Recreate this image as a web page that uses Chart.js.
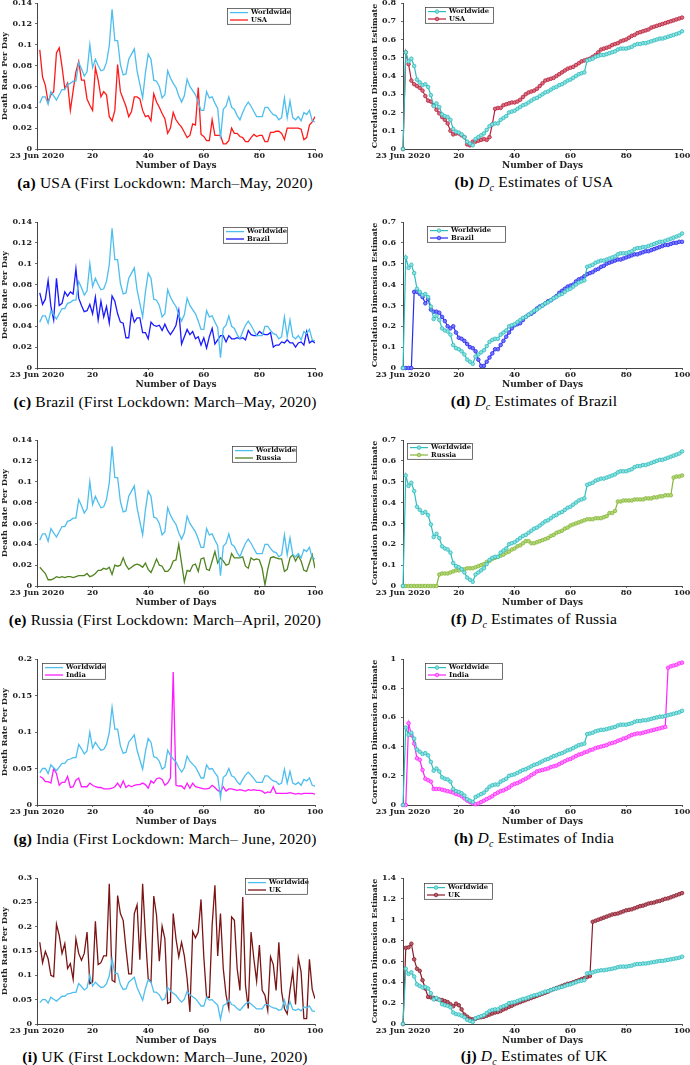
<!DOCTYPE html>
<html>
<head>
<meta charset="utf-8">
<script src="https://cdn.jsdelivr.net/npm/chart.js@4.4.1/dist/chart.umd.min.js"></script>
<style>
  body { margin: 0; background: #fff; width: 690px; height: 1065px; position: relative; overflow: hidden; }
  canvas { position: absolute; }
  .cap { position: absolute; font-family: "Liberation Serif", serif; font-size: 15.5px; color: #000;
         white-space: nowrap; transform: translate(-50%, -50%); letter-spacing: 0.2px; }
  .cap sub { font-size: 10px; }
</style>
</head>
<body>
<script>
// death rate per day, days 1..100
let worldRate = [0.044,0.050,0.050,0.043,0.055,0.051,0.047,0.052,0.057,0.057,
  0.062,0.063,0.065,0.065,0.083,0.077,0.070,0.074,0.100,0.078,
  0.086,0.080,0.075,0.076,0.083,0.099,0.134,0.104,0.104,0.081,
  0.071,0.072,0.086,0.091,0.096,0.075,0.062,0.049,0.073,0.091,
  0.086,0.066,0.065,0.060,0.049,0.052,0.075,0.068,0.063,0.059,
  0.051,0.045,0.051,0.067,0.060,0.056,0.052,0.045,0.037,0.037,
  0.055,0.049,0.050,0.044,0.039,0.010,0.038,0.041,0.050,0.040,
  0.038,0.032,0.028,0.035,0.041,0.045,0.041,0.036,0.031,0.031,
  0.031,0.040,0.040,0.036,0.033,0.032,0.028,0.030,0.049,0.030,
  0.046,0.030,0.028,0.031,0.027,0.035,0.033,0.037,0.027,0.026];
let usaRate = [0.095,0.069,0.061,0.045,0.052,0.055,0.092,0.097,0.079,0.058,
  0.063,0.037,0.056,0.074,0.084,0.066,0.066,0.048,0.042,0.037,
  0.078,0.066,0.050,0.055,0.052,0.031,0.027,0.037,0.081,0.055,
  0.048,0.041,0.031,0.036,0.050,0.050,0.048,0.037,0.031,0.032,
  0.027,0.053,0.045,0.040,0.034,0.029,0.015,0.020,0.035,0.028,
  0.024,0.021,0.016,0.011,0.013,0.024,0.023,0.059,0.014,0.012,
  0.008,0.008,0.028,0.013,0.013,0.013,0.005,0.005,0.008,0.020,
  0.015,0.015,0.012,0.011,0.007,0.007,0.011,0.014,0.012,0.013,
  0.013,0.007,0.007,0.016,0.016,0.017,0.017,0.015,0.009,0.020,
  0.020,0.020,0.020,0.020,0.019,0.009,0.011,0.023,0.026,0.031];
let brazilRate = [0.072,0.061,0.066,0.084,0.059,0.046,0.086,0.060,0.062,0.073,
  0.069,0.073,0.071,0.095,0.067,0.060,0.054,0.055,0.061,0.052,
  0.068,0.046,0.064,0.049,0.059,0.043,0.069,0.064,0.052,0.044,
  0.043,0.029,0.029,0.054,0.044,0.048,0.048,0.034,0.034,0.028,
  0.044,0.041,0.040,0.041,0.036,0.042,0.036,0.032,0.036,0.041,
  0.055,0.023,0.030,0.037,0.032,0.035,0.028,0.030,0.022,0.029,
  0.019,0.030,0.038,0.023,0.027,0.031,0.031,0.025,0.031,0.028,
  0.028,0.029,0.028,0.029,0.027,0.036,0.032,0.031,0.031,0.035,
  0.033,0.032,0.032,0.034,0.020,0.022,0.022,0.025,0.024,0.027,
  0.024,0.024,0.020,0.024,0.025,0.022,0.035,0.024,0.026,0.024];
let russiaRate = [0.018,0.015,0.012,0.006,0.006,0.007,0.009,0.008,0.009,0.008,
  0.009,0.009,0.008,0.009,0.010,0.010,0.010,0.012,0.009,0.010,
  0.012,0.015,0.015,0.017,0.016,0.018,0.011,0.020,0.019,0.020,
  0.027,0.020,0.016,0.018,0.020,0.021,0.020,0.018,0.022,0.016,
  0.013,0.019,0.026,0.020,0.019,0.014,0.014,0.017,0.024,0.025,
  0.040,0.022,0.004,0.015,0.014,0.020,0.021,0.014,0.026,0.027,
  0.016,0.015,0.024,0.033,0.022,0.027,0.024,0.020,0.021,0.031,
  0.027,0.027,0.027,0.028,0.019,0.017,0.027,0.025,0.026,0.025,
  0.017,0.001,0.016,0.027,0.028,0.027,0.026,0.026,0.014,0.016,
  0.027,0.030,0.024,0.029,0.024,0.015,0.014,0.022,0.030,0.017];
let indiaRate = [0.039,0.037,0.032,0.032,0.030,0.050,0.043,0.027,0.031,0.031,
  0.039,0.024,0.025,0.034,0.037,0.025,0.025,0.025,0.030,0.027,
  0.025,0.024,0.024,0.022,0.022,0.022,0.023,0.025,0.030,0.024,
  0.033,0.024,0.027,0.025,0.027,0.028,0.028,0.030,0.028,0.023,
  0.033,0.030,0.036,0.037,0.035,0.027,0.030,0.037,0.182,0.027,
  0.026,0.026,0.022,0.030,0.023,0.030,0.025,0.024,0.023,0.022,
  0.022,0.023,0.027,0.024,0.020,0.018,0.025,0.019,0.022,0.022,
  0.021,0.020,0.021,0.020,0.019,0.021,0.020,0.021,0.020,0.020,
  0.019,0.016,0.018,0.017,0.025,0.016,0.016,0.016,0.016,0.016,
  0.017,0.016,0.015,0.016,0.015,0.016,0.016,0.016,0.016,0.015];
let ukRate = [0.168,0.126,0.149,0.134,0.100,0.097,0.205,0.182,0.145,0.165,
  0.114,0.124,0.092,0.175,0.145,0.131,0.145,0.189,0.083,0.086,
  0.211,0.122,0.126,0.140,0.140,0.288,0.090,0.086,0.264,0.227,
  0.213,0.155,0.103,0.103,0.227,0.245,0.132,0.288,0.182,0.093,
  0.086,0.263,0.223,0.129,0.201,0.175,0.042,0.045,0.227,0.175,
  0.138,0.168,0.140,0.093,0.025,0.190,0.177,0.189,0.256,0.138,
  0.055,0.055,0.203,0.285,0.140,0.227,0.114,0.060,0.032,0.220,
  0.213,0.114,0.069,0.261,0.079,0.032,0.189,0.134,0.088,0.162,
  0.069,0.059,0.028,0.138,0.122,0.069,0.168,0.066,0.032,0.021,
  0.069,0.108,0.040,0.136,0.107,0.011,0.011,0.133,0.071,0.052];

// correlation dimension estimates, days 0..100
let worldDc = [0,0.53,0.48,0.495,0.455,0.38,0.365,0.35,0.355,0.34,
  0.295,0.235,0.25,0.23,0.19,0.18,0.175,0.16,0.11,0.095,
  0.09,0.08,0.065,0.04,0.03,0.02,0.055,0.065,0.075,0.085,
  0.105,0.125,0.135,0.14,0.14,0.16,0.17,0.18,0.2,0.205,
  0.21,0.22,0.23,0.24,0.245,0.255,0.265,0.275,0.28,0.29,
  0.3,0.31,0.315,0.325,0.335,0.34,0.35,0.355,0.365,0.375,
  0.38,0.39,0.4,0.41,0.415,0.42,0.485,0.49,0.495,0.505,
  0.51,0.515,0.515,0.52,0.525,0.53,0.535,0.545,0.55,0.55,
  0.55,0.555,0.56,0.57,0.575,0.575,0.58,0.58,0.585,0.59,
  0.595,0.6,0.605,0.605,0.61,0.615,0.62,0.625,0.63,0.635,
  0.645];
let usaDc = [0,0.53,0.465,0.375,0.355,0.345,0.335,0.32,0.29,0.265,
  0.26,0.24,0.215,0.195,0.175,0.16,0.14,0.1,0.08,0.085,
  0.085,0.075,0.065,0.025,0.02,0.04,0.04,0.045,0.05,0.055,
  0.05,0.065,0.135,0.22,0.225,0.225,0.24,0.245,0.25,0.255,
  0.255,0.26,0.27,0.285,0.3,0.31,0.315,0.32,0.33,0.345,
  0.36,0.375,0.38,0.385,0.39,0.4,0.41,0.42,0.43,0.44,
  0.445,0.45,0.46,0.47,0.48,0.485,0.49,0.495,0.505,0.515,
  0.53,0.545,0.55,0.555,0.56,0.57,0.575,0.58,0.59,0.595,
  0.6,0.61,0.62,0.625,0.635,0.64,0.645,0.65,0.655,0.665,
  0.67,0.675,0.68,0.685,0.69,0.695,0.7,0.705,0.71,0.715,
  0.72];
let brazilDc = [0,0,0,0,0.365,0.365,0.355,0.34,0.31,0.33,
  0.28,0.27,0.27,0.265,0.245,0.225,0.2,0.19,0.2,0.17,
  0.145,0.14,0.13,0.115,0.1,0.095,0.08,0.04,0.01,0.01,
  0.03,0.05,0.07,0.09,0.09,0.11,0.13,0.15,0.17,0.19,
  0.205,0.21,0.215,0.23,0.245,0.255,0.26,0.27,0.285,0.295,
  0.3,0.31,0.32,0.325,0.335,0.345,0.36,0.37,0.38,0.39,
  0.395,0.4,0.415,0.425,0.43,0.44,0.45,0.455,0.46,0.47,
  0.475,0.485,0.49,0.5,0.505,0.51,0.515,0.52,0.52,0.525,
  0.53,0.535,0.54,0.545,0.545,0.55,0.555,0.56,0.56,0.565,
  0.57,0.575,0.58,0.585,0.59,0.59,0.595,0.6,0.6,0.605,
  0.605];
let russiaDc = [0,0,0,0,0,0,0,0,0,0,
  0,0,0,0.055,0.06,0.06,0.06,0.065,0.07,0.075,
  0.075,0.08,0.08,0.085,0.085,0.085,0.09,0.095,0.1,0.105,
  0.115,0.12,0.13,0.135,0.14,0.145,0.15,0.16,0.165,0.175,
  0.18,0.19,0.195,0.205,0.215,0.215,0.205,0.205,0.21,0.215,
  0.22,0.225,0.23,0.24,0.245,0.255,0.26,0.265,0.275,0.28,
  0.29,0.295,0.3,0.305,0.31,0.315,0.32,0.32,0.32,0.325,
  0.325,0.325,0.33,0.335,0.35,0.35,0.36,0.405,0.405,0.41,
  0.41,0.41,0.41,0.415,0.415,0.415,0.415,0.42,0.42,0.42,
  0.425,0.425,0.43,0.43,0.435,0.435,0.435,0.52,0.525,0.525,
  0.53];
let indiaDc = [0,0,0.56,0.48,0.42,0.32,0.31,0.24,0.18,0.17,
  0.16,0.11,0.11,0.11,0.105,0.1,0.095,0.09,0.085,0.075,
  0.07,0.06,0.045,0.03,0.02,0.01,0.005,0.01,0.02,0.03,
  0.04,0.05,0.06,0.075,0.085,0.095,0.1,0.11,0.12,0.135,
  0.145,0.15,0.16,0.17,0.18,0.19,0.205,0.215,0.23,0.235,
  0.24,0.245,0.25,0.26,0.265,0.27,0.28,0.29,0.3,0.31,
  0.315,0.325,0.335,0.345,0.35,0.36,0.365,0.375,0.38,0.39,
  0.395,0.4,0.405,0.41,0.42,0.425,0.43,0.44,0.445,0.455,
  0.46,0.47,0.48,0.485,0.49,0.49,0.495,0.5,0.505,0.51,
  0.515,0.52,0.525,0.53,0.535,0.94,0.95,0.955,0.96,0.97,
  0.975];
let ukDc = [0,0.73,0.735,0.77,0.62,0.53,0.51,0.42,0.34,0.26,
  0.255,0.25,0.24,0.235,0.23,0.22,0.21,0.19,0.17,0.195,
  0.18,0.14,0.09,0.07,0.05,0.045,0.05,0.06,0.065,0.07,
  0.08,0.09,0.1,0.11,0.115,0.125,0.14,0.15,0.165,0.175,
  0.19,0.2,0.21,0.22,0.23,0.24,0.25,0.26,0.27,0.28,
  0.29,0.3,0.31,0.325,0.335,0.345,0.355,0.365,0.375,0.385,
  0.39,0.4,0.41,0.42,0.43,0.44,0.45,0.46,0.98,0.99,
  1.0,1.01,1.02,1.03,1.04,1.05,1.055,1.06,1.07,1.08,
  1.09,1.095,1.1,1.11,1.12,1.13,1.135,1.145,1.155,1.16,
  1.165,1.175,1.18,1.19,1.2,1.205,1.215,1.225,1.235,1.245,
  1.255];

// tick labels
let xTickValues = [0, 20, 40, 60, 80, 100];
let xTickLabels = ["23 Jun 2020", "20", "40", "60", "80", "100"];
let rateTicks14 = [0, 0.02, 0.04, 0.06, 0.08, 0.1, 0.12, 0.14];
let rateTicks20 = [0, 0.05, 0.1, 0.15, 0.2];
let rateTicks30 = [0, 0.05, 0.1, 0.15, 0.2, 0.25, 0.3];
let dcTicks08 = [0, 0.1, 0.2, 0.3, 0.4, 0.5, 0.6, 0.7, 0.8];
let dcTicks07 = [0, 0.1, 0.2, 0.3, 0.4, 0.5, 0.6, 0.7];
let dcTicks10 = [0, 0.2, 0.4, 0.6, 0.8, 1];
let dcTicks14 = [0, 0.2, 0.4, 0.6, 0.8, 1, 1.2, 1.4];

Chart.defaults.font.family = "DejaVu Serif";

const plotTops = [3, 222, 440, 659, 878];
const capTops = [183, 402, 620, 839, 1057];
const PAD_TOP = 8, PLOT_H = 146, XAXIS_H = 22;

// leg = legend box position on the page
const panels = [
  { row: 0, col: 0, tag: "a", name: "USA", data: usaRate, color: "#ff1a1a", ticks: rateTicks14, cap: "USA (First Lockdown: March–May, 2020)", leg: { x: 227, y: 8, w: 63 } },
  { row: 0, col: 1, tag: "b", name: "USA", data: usaDc, color: "#b8203c", fill: "#d87080", ticks: dcTicks08, cap: "USA", leg: { x: 425, y: 7, w: 68 } },
  { row: 1, col: 0, tag: "c", name: "Brazil", data: brazilRate, color: "#1a1aff", ticks: rateTicks14, cap: "Brazil (First Lockdown: March–May, 2020)", leg: { x: 223, y: 227, w: 64 } },
  { row: 1, col: 1, tag: "d", name: "Brazil", data: brazilDc, color: "#2a2aee", fill: "#7a7aff", ticks: dcTicks07, cap: "Brazil", leg: { x: 427, y: 226, w: 78 } },
  { row: 2, col: 0, tag: "e", name: "Russia", data: russiaRate, color: "#518420", ticks: rateTicks14, cap: "Russia (First Lockdown: March–April, 2020)", leg: { x: 232, y: 446, w: 64 } },
  { row: 2, col: 1, tag: "f", name: "Russia", data: russiaDc, color: "#86b83a", fill: "#b4d67a", ticks: dcTicks07, cap: "Russia", leg: { x: 407, y: 443, w: 65 } },
  { row: 3, col: 0, tag: "g", name: "India", data: indiaRate, color: "#ff1aff", ticks: rateTicks20, cap: "India (First Lockdown: March– June, 2020)", leg: { x: 42, y: 663, w: 63 } },
  { row: 3, col: 1, tag: "h", name: "India", data: indiaDc, color: "#ff22ff", fill: "#ff8cff", ticks: dcTicks10, cap: "India", leg: { x: 425, y: 663, w: 77 } },
  { row: 4, col: 0, tag: "i", name: "UK", data: ukRate, color: "#7b1414", ticks: rateTicks30, cap: "UK (First Lockdown: March–June, 2020)", leg: { x: 245, y: 878, w: 62 } },
  { row: 4, col: 1, tag: "j", name: "UK", data: ukDc, color: "#8a1c2a", fill: "#b86070", ticks: dcTicks14, cap: "UK", leg: { x: 424, y: 883, w: 68 } }
];

// legend box drawn inside the plot, like the matlab one
const boxLegend = {
  id: "boxLegend",
  afterDatasetsDraw(chart, args, opts) {
    const ctx = chart.ctx;
    const x = opts.x, y = opts.y, w = opts.w, rowH = 7.4;
    ctx.save();
    ctx.fillStyle = "#fff";
    ctx.fillRect(x, y, w, rowH * 2 + 1);
    ctx.strokeStyle = "#333";
    ctx.lineWidth = 0.7;
    ctx.strokeRect(x + 0.5, y + 0.5, w, rowH * 2 + 1);
    chart.data.datasets.forEach((ds, i) => {
      const cy = y + 4.6 + i * rowH;
      ctx.strokeStyle = ds.borderColor;
      ctx.lineWidth = ds.borderWidth;
      ctx.beginPath();
      ctx.moveTo(x + 3, cy);
      ctx.lineTo(x + 21, cy);
      ctx.stroke();
      if (ds.pointRadius) {
        ctx.beginPath();
        ctx.arc(x + 12, cy, ds.pointRadius, 0, Math.PI * 2);
        ctx.fillStyle = ds.pointBackgroundColor;
        ctx.fill();
        ctx.lineWidth = ds.pointBorderWidth;
        ctx.stroke();
      }
      ctx.fillStyle = "#111";
      ctx.font = "bold 6.8px 'DejaVu Serif'";
      ctx.textBaseline = "middle";
      ctx.fillText(ds.label, x + 24, cy);
    });
    ctx.restore();
  }
};

function toPoints(arr, start) {
  return arr.map((v, i) => ({ x: i + start, y: v }));
}

panels.forEach(p => {
  const isDc = p.col === 1;
  const left = isDc ? 370 : 0;
  const width = isDc ? 320 : 345;
  const yAxisW = isDc ? 33 : 37;
  const padRight = isDc ? 8 : 30;
  const top = plotTops[p.row] - PAD_TOP;

  const cv = document.createElement("canvas");
  cv.width = width;
  cv.height = PAD_TOP + PLOT_H + XAXIS_H;
  cv.style.left = left + "px";
  cv.style.top = top + "px";
  document.body.appendChild(cv);

  let datasets;
  if (isDc) {
    datasets = [
      { label: "Worldwide", data: toPoints(worldDc, 0), borderColor: "#2fbcbc", pointBackgroundColor: "#8fe0e0",
        borderWidth: 1.2, pointRadius: 1.8, pointBorderWidth: 0.8, clip: false },
      { label: p.name, data: toPoints(p.data, 0), borderColor: p.color, pointBackgroundColor: p.fill,
        borderWidth: 1.2, pointRadius: 1.8, pointBorderWidth: 0.8, clip: false }
    ];
  } else {
    datasets = [
      { label: "Worldwide", data: toPoints(worldRate, 1), borderColor: "#4dbeee", borderWidth: 1.3, pointRadius: 0 },
      { label: p.name, data: toPoints(p.data, 1), borderColor: p.color, borderWidth: 1.3, pointRadius: 0 }
    ];
  }
  const tickFont = { family: "DejaVu Serif", weight: "bold", size: 8 };
  const xTitleFont = { family: "DejaVu Serif", weight: "bold", size: 9 };
  const yTitleFont = { family: "DejaVu Serif", weight: "bold", size: 8 };
  // small outward tick marks, no grid inside the plot
  const tickMarks = { display: true, drawOnChartArea: false, drawTicks: true, tickLength: 2, color: "#444", lineWidth: 0.8 };

  new Chart(cv, {
    type: "line",
    data: { datasets: datasets },
    options: {
      responsive: false,
      animation: false,
      devicePixelRatio: 1,
      layout: { padding: { top: PAD_TOP, right: padRight, left: 0, bottom: 0 } },
      plugins: {
        legend: { display: false },
        tooltip: { enabled: false },
        boxLegend: { x: p.leg.x - left, y: p.leg.y - top, w: p.leg.w }
      },
      elements: { line: { tension: 0 } },
      scales: {
        x: {
          type: "linear", min: 0, max: 100,
          grid: tickMarks,
          border: { display: true, color: "#444", width: 1 },
          afterBuildTicks: axis => { axis.ticks = xTickValues.map(v => ({ value: v })); },
          ticks: { font: tickFont, color: "#222", padding: 0, maxRotation: 0, autoSkip: false,
                   callback: v => xTickLabels[xTickValues.indexOf(v)] },
          title: { display: true, text: "Number of Days", font: xTitleFont, color: "#222", padding: 0 },
          afterFit: axis => { axis.height = XAXIS_H; axis.paddingLeft = 0; axis.paddingRight = 0; }
        },
        y: {
          min: 0, max: p.ticks[p.ticks.length - 1],
          grid: tickMarks,
          border: { display: true, color: "#444", width: 1 },
          afterBuildTicks: axis => { axis.ticks = p.ticks.map(v => ({ value: v })); },
          ticks: { font: tickFont, color: "#222", padding: isDc ? 5 : 3,
                   callback: v => String(Number(v.toFixed(3))) },
          title: { display: true, text: isDc ? "Correlation Dimension Estimate" : "Death Rate Per Day",
                   font: yTitleFont, color: "#222", padding: 0 },
          afterFit: axis => { axis.width = yAxisW; axis.paddingTop = 0; axis.paddingBottom = 0; }
        }
      }
    },
    plugins: [boxLegend]
  });

  // caption under the panel
  const cap = document.createElement("div");
  cap.className = "cap";
  cap.style.left = (isDc ? 534 : 165) + "px";
  cap.style.top = capTops[p.row] + "px";
  if (isDc) {
    cap.innerHTML = "<b>(" + p.tag + ")</b> <i>D</i><sub><i>c</i></sub> Estimates of " + p.cap;
  } else {
    cap.innerHTML = "<b>(" + p.tag + ")</b> " + p.cap;
  }
  document.body.appendChild(cap);
});
</script>
</body>
</html>
